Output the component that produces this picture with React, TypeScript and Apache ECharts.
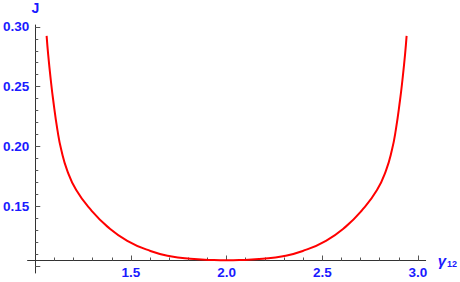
import React, { useEffect, useRef } from "react";
import * as echarts from "echarts";

// Curve readings (gamma_12, J)
const gammaValues = [
  1.0595, 1.0678, 1.0813, 1.0938, 1.1161, 1.1363, 1.1664, 1.2142, 1.2921, 1.3787, 1.481, 1.6019,
  1.7057, 1.8106, 1.9221, 2.0, 2.0779, 2.1894, 2.2943, 2.3981, 2.519, 2.6213, 2.7079, 2.7858,
  2.8336, 2.8637, 2.8839, 2.9062, 2.9187, 2.9322, 2.9405,
];
const jValues = [
  0.2924, 0.2765, 0.2556, 0.2389, 0.2138, 0.1971, 0.1804, 0.1637, 0.1469, 0.133, 0.1214, 0.1129,
  0.1085, 0.1064, 0.1054, 0.1051, 0.1054, 0.1064, 0.1085, 0.1129, 0.1214, 0.133, 0.1469, 0.1637,
  0.1804, 0.1971, 0.2138, 0.2389, 0.2556, 0.2765, 0.2924,
];

const xLabelValues = [1.5, 2.0, 2.5, 3.0];
const xMinorTicks = [
  1.1, 1.2, 1.3, 1.4, 1.6, 1.7, 1.8, 1.9, 2.1, 2.2, 2.3, 2.4, 2.6, 2.7, 2.8, 2.9,
];
const yLabelValues = [0.15, 0.2, 0.25, 0.3];
const yMajorTicks = [0.1, 0.15, 0.2, 0.25, 0.3];
const yMinorTicks = [
  0.11, 0.12, 0.13, 0.14, 0.16, 0.17, 0.18, 0.19, 0.21, 0.22, 0.23, 0.24, 0.26, 0.27, 0.28, 0.29,
];

const X_MIN = 0.96;
const X_MAX = 3.04;
const Y_MIN = 0.0945;
const Y_MAX = 0.3015;

const BLUE = "#1a1aff";
const AXIS = "#333333";
const TICK = "#555555";
const FONT = "Liberation Sans";

export default function App() {
  const ref = useRef<HTMLDivElement>(null);

  useEffect(() => {
    if (!ref.current) return;
    const chart = echarts.init(ref.current, undefined, { renderer: "svg" });
    const labelStyle = {
      color: BLUE,
      fontWeight: "bold" as const,
      fontFamily: FONT,
      fontSize: 13.5,
    };
    chart.setOption({
      animation: false,
      backgroundColor: "#ffffff",
      grid: { left: 26, right: 33, top: 25, bottom: 9, containLabel: false },
      xAxis: [
        {
          type: "value",
          min: X_MIN,
          max: X_MAX,
          position: "bottom",
          offset: -12.5,
          axisLine: { show: true, onZero: false, lineStyle: { color: AXIS, width: 1 } },
          axisTick: {
            show: true,
            inside: true,
            length: 5,
            customValues: xLabelValues,
            lineStyle: { color: TICK },
          },
          axisLabel: {
            ...labelStyle,
            margin: 5,
            customValues: xLabelValues,
            formatter: (v: number) => v.toFixed(1),
          },
          splitLine: { show: false },
          name: "{g|γ}{s|12}",
          nameLocation: "end",
          nameGap: 12,
          nameTextStyle: {
            rich: {
              g: {
                color: BLUE,
                fontStyle: "italic",
                fontWeight: "bold",
                fontFamily: FONT,
                fontSize: 15,
              },
              s: {
                color: BLUE,
                fontFamily: FONT,
                fontWeight: "bold",
                fontSize: 9,
                padding: [6, 0, 0, 1],
              },
            },
          },
        },
        {
          type: "value",
          min: X_MIN,
          max: X_MAX,
          position: "bottom",
          offset: -12.5,
          axisLine: { show: false, onZero: false },
          axisTick: {
            show: true,
            inside: true,
            length: 3,
            customValues: xMinorTicks,
            lineStyle: { color: TICK },
          },
          axisLabel: { show: false },
          splitLine: { show: false },
        },
      ],
      yAxis: [
        {
          type: "value",
          min: Y_MIN,
          max: Y_MAX,
          position: "left",
          offset: -7.7,
          axisLine: { show: true, onZero: false, lineStyle: { color: AXIS, width: 1 } },
          axisTick: {
            show: true,
            inside: true,
            length: 5,
            customValues: yMajorTicks,
            lineStyle: { color: TICK },
          },
          axisLabel: {
            ...labelStyle,
            margin: 6,
            customValues: yLabelValues,
            formatter: (v: number) => v.toFixed(2),
          },
          splitLine: { show: false },
          name: "J",
          nameLocation: "end",
          nameGap: 10,
          nameTextStyle: {
            color: BLUE,
            fontWeight: "bold",
            fontFamily: FONT,
            fontSize: 14,
          },
        },
        {
          type: "value",
          min: Y_MIN,
          max: Y_MAX,
          position: "left",
          offset: -7.7,
          axisLine: { show: false, onZero: false },
          axisTick: {
            show: true,
            inside: true,
            length: 3,
            customValues: yMinorTicks,
            lineStyle: { color: TICK },
          },
          axisLabel: { show: false },
          splitLine: { show: false },
        },
      ],
      series: [
        {
          type: "line",
          xAxisIndex: 0,
          yAxisIndex: 0,
          data: gammaValues.map((g, i) => [g, jValues[i]]),
          showSymbol: false,
          smooth: 0.5,
          lineStyle: { color: "#ff0000", width: 2 },
          clip: false,
        },
      ],
    });
    return () => chart.dispose();
  }, []);

  return (
    <div
      ref={ref}
      style={{ position: "fixed", left: 0, top: 0, width: 460, height: 282, background: "#fff" }}
    />
  );
}
